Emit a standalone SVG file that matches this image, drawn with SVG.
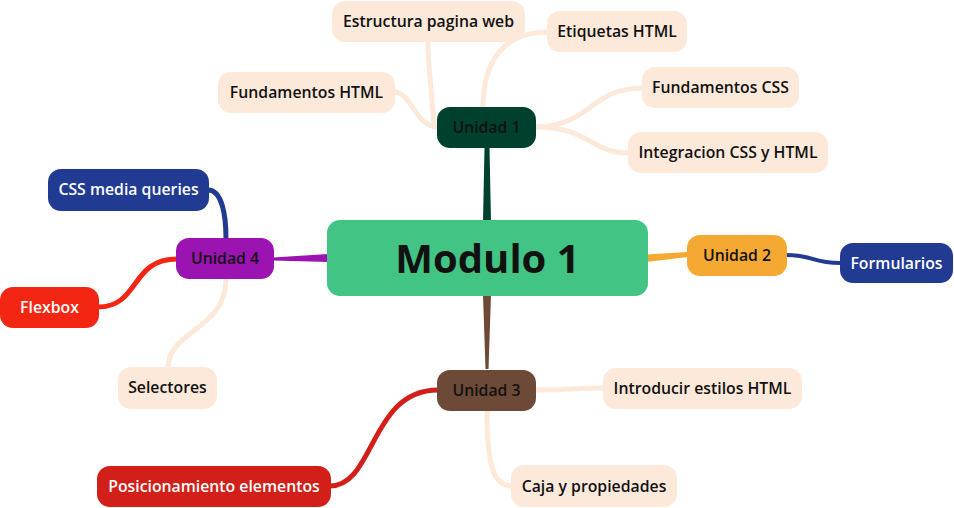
<svg xmlns="http://www.w3.org/2000/svg" width="954" height="508" viewBox="0 0 954 508">
<style>
text{font-family:"Open Sans","Noto Sans","Liberation Sans",sans-serif;font-weight:600;font-size:15.8px;text-anchor:middle}
.dark{fill:#111}
.light{fill:#fff}
.leaf{fill:#fde9da}
.lk{fill:none;stroke:#fde9da;stroke-width:5;stroke-linecap:round}
.blue{fill:#213a92}
.title{font-size:40px;font-weight:700}
</style>
<rect width="954" height="508" fill="#fff"/>
<g id="connectors">
  <polygon points="484.5,148 489.5,148 491,221 483,221" fill="#00402f"/>
  <polygon points="485.5,369 488.5,369 491,295 483,295" fill="#6d4a38"/>
  <polygon points="646,254.5 688,252 688,257 646,262" fill="#f5a932"/>
  <polygon points="273,257.5 328,254 328,262 273,260.5" fill="#9b13b1"/>
  <path d="M786,255 C815,255 810,263 841,263" fill="none" stroke="#213a92" stroke-width="4"/>
  <path d="M226,239 C226,215 222,190 208,190" fill="none" stroke="#213a92" stroke-width="5"/>
  <path d="M177,259 C130,259 140,307 98,307" fill="none" stroke="#f22613" stroke-width="5"/>
  <path d="M226,279 C226,330 168,330 168,368" class="lk"/>
  <path d="M438,390 C370,390 375,486 330,486" fill="none" stroke="#d21f19" stroke-width="5"/>
  <path d="M535,390 C570,390 575,388 604,388" class="lk"/>
  <path d="M487,411 C487,470 495,486 512,486" class="lk"/>
  <path d="M438,127 C415,127 412,92 394,92" class="lk"/>
  <path d="M434,127 C432,90 428,70 428,42" class="lk"/>
  <path d="M483,107 C483,60 505,32 548,32" class="lk"/>
  <path d="M535,127 C590,127 590,88 643,88" class="lk"/>
  <path d="M535,127 C590,127 590,153 629,153" class="lk"/>
</g>
<g id="modulo1">
  <rect x="327" y="220" width="321" height="76" rx="13" fill="#42c584"/>
  <text x="487.5" y="273" class="dark title">Modulo 1</text>
</g>
<g id="unidad1">
  <rect x="437" y="107" width="99" height="41" rx="13" fill="#00402f"/>
  <text x="486.5" y="133" class="dark">Unidad 1</text>
</g>
<g id="unidad2">
  <rect x="687" y="235" width="100" height="41" rx="13" fill="#f5a932"/>
  <text x="737" y="261" class="dark">Unidad 2</text>
</g>
<g id="unidad3">
  <rect x="437" y="370" width="99" height="41" rx="13" fill="#6d4a38"/>
  <text x="486.5" y="396" class="dark">Unidad 3</text>
</g>
<g id="unidad4">
  <rect x="176" y="238" width="98" height="41" rx="13" fill="#9b13b1"/>
  <text x="225" y="264" class="dark">Unidad 4</text>
</g>
<g id="formularios">
  <rect x="840" y="243" width="113" height="40" rx="13" class="blue"/>
  <text x="896.5" y="269" class="light">Formularios</text>
</g>
<g id="css-media-queries">
  <rect x="48" y="169" width="161" height="42" rx="13" class="blue"/>
  <text x="128.5" y="195" class="light">CSS media queries</text>
</g>
<g id="flexbox">
  <rect x="0" y="287" width="99" height="41" rx="13" fill="#f22613"/>
  <text x="49.5" y="313" class="light">Flexbox</text>
</g>
<g id="selectores">
  <rect x="118" y="367" width="99" height="42" rx="13" class="leaf"/>
  <text x="167.5" y="393" class="dark">Selectores</text>
</g>
<g id="posicionamiento">
  <rect x="97" y="466" width="234" height="41" rx="13" fill="#d21f19"/>
  <text x="214" y="492" class="light">Posicionamiento elementos</text>
</g>
<g id="introducir">
  <rect x="603" y="368" width="199" height="41" rx="13" class="leaf"/>
  <text x="702.5" y="394" class="dark">Introducir estilos HTML</text>
</g>
<g id="caja">
  <rect x="511" y="465" width="166" height="42" rx="13" class="leaf"/>
  <text x="594" y="492" class="dark">Caja y propiedades</text>
</g>
<g id="estructura">
  <rect x="332" y="1" width="193" height="41" rx="13" class="leaf"/>
  <text x="428.5" y="27" class="dark">Estructura pagina web</text>
</g>
<g id="fundamentos-html">
  <rect x="218" y="72" width="177" height="41" rx="13" class="leaf"/>
  <text x="306.5" y="98" class="dark">Fundamentos HTML</text>
</g>
<g id="etiquetas">
  <rect x="547" y="11" width="140" height="41" rx="13" class="leaf"/>
  <text x="617" y="37" class="dark">Etiquetas HTML</text>
</g>
<g id="fundamentos-css">
  <rect x="642" y="67" width="157" height="41" rx="13" class="leaf"/>
  <text x="720.5" y="93" class="dark">Fundamentos CSS</text>
</g>
<g id="integracion">
  <rect x="628" y="132" width="200" height="41" rx="13" class="leaf"/>
  <text x="728" y="158" class="dark">Integracion CSS y HTML</text>
</g>
</svg>
